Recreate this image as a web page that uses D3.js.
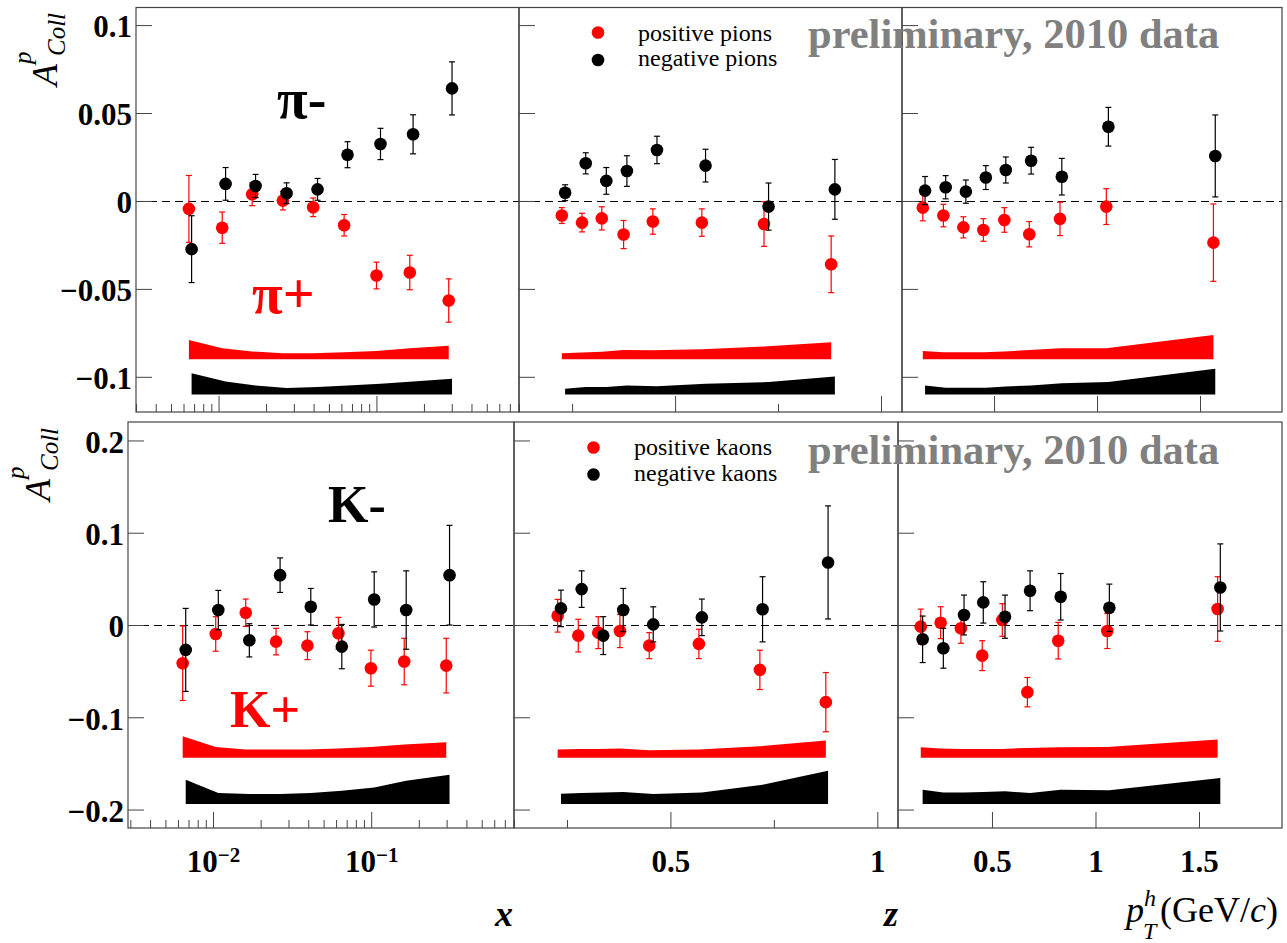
<!DOCTYPE html>
<html>
<head>
<meta charset="utf-8">
<script src="https://cdn.jsdelivr.net/npm/d3@7"></script>
<style>
body { margin: 0; background: #fff; }
text { font-family: "Liberation Serif", "Times New Roman", serif; }
</style>
</head>
<body>
<script>
/* Collins asymmetry on proton, 2010 data */

/* pions vs x */
var pixPosX = [0.00649, 0.01055, 0.01633, 0.02555, 0.03974, 0.06244, 0.1001, 0.1627, 0.2871];
var pixPosA = [-0.0045, -0.0152, 0.0038, 0.0002, -0.0036, -0.0138, -0.0424, -0.0407, -0.0566];
var pixPosE = [0.019, 0.0089, 0.0065, 0.0053, 0.0053, 0.0061, 0.0076, 0.0098, 0.0123];
var pixPosS = [0.011, 0.0063, 0.0044, 0.0034, 0.0034, 0.004, 0.0047, 0.0063, 0.0076];
var pixNegX = [0.00675, 0.01108, 0.01716, 0.02697, 0.04236, 0.06561, 0.1061, 0.1707, 0.3012];
var pixNegA = [-0.0274, 0.0097, 0.0085, 0.0044, 0.0066, 0.0263, 0.0324, 0.0379, 0.064];
var pixNegE = [0.019, 0.0093, 0.0066, 0.0059, 0.0062, 0.0074, 0.0089, 0.0111, 0.0151];
var pixNegS = [0.0121, 0.0074, 0.0051, 0.0036, 0.0042, 0.0051, 0.0061, 0.0074, 0.0089];

/* pions vs z */
var pizPosX = [0.225, 0.274, 0.322, 0.375, 0.446, 0.565, 0.716, 0.879];
var pizPosA = [-0.0083, -0.0123, -0.0099, -0.0191, -0.0117, -0.0123, -0.0131, -0.036];
var pizPosE = [0.0045, 0.0053, 0.0066, 0.008, 0.0072, 0.0078, 0.0127, 0.0161];
var pizPosS = [0.0034, 0.0038, 0.0042, 0.0053, 0.0051, 0.0057, 0.0072, 0.0097];
var pizNegX = [0.233, 0.283, 0.333, 0.383, 0.456, 0.574, 0.727, 0.888];
var pizNegA = [0.0047, 0.0214, 0.0114, 0.017, 0.029, 0.0201, -0.0032, 0.0066];
var pizNegE = [0.0045, 0.006, 0.0076, 0.0087, 0.0078, 0.0093, 0.0134, 0.017];
var pizNegS = [0.0032, 0.0042, 0.0042, 0.0051, 0.0047, 0.0061, 0.007, 0.0102];

/* pions vs pT */
var pipPosX = [0.154, 0.254, 0.351, 0.448, 0.55, 0.671, 0.82, 1.045, 1.565];
var pipPosA = [-0.0038, -0.0083, -0.015, -0.0165, -0.0108, -0.0189, -0.0102, -0.0032, -0.0237];
var pipPosE = [0.0075, 0.0064, 0.006, 0.0064, 0.007, 0.0072, 0.0095, 0.0102, 0.022];
var pipPosS = [0.0047, 0.004, 0.004, 0.004, 0.0044, 0.0053, 0.0062, 0.0062, 0.0138];
var pipNegX = [0.165, 0.265, 0.363, 0.46, 0.557, 0.68, 0.829, 1.055, 1.574];
var pipNegA = [0.0059, 0.0078, 0.0053, 0.0133, 0.0176, 0.0229, 0.0138, 0.0422, 0.0256];
var pipNegE = [0.008, 0.0066, 0.0066, 0.0068, 0.0074, 0.0076, 0.0104, 0.011, 0.0233];
var pipNegS = [0.0051, 0.0038, 0.0038, 0.0038, 0.0045, 0.0051, 0.0064, 0.007, 0.0146];

/* kaons vs x */
var kxPosX = [0.00643, 0.0104, 0.0161, 0.02504, 0.03952, 0.0621, 0.0996, 0.1618, 0.2983];
var kxPosA = [-0.0414, -0.0097, 0.0133, -0.018, -0.0224, -0.009, -0.0468, -0.0396, -0.044];
var kxPosE = [0.0404, 0.0187, 0.0148, 0.0144, 0.0151, 0.0173, 0.0195, 0.0252, 0.0296];
var kxPosS = [0.0234, 0.0119, 0.009, 0.009, 0.009, 0.0101, 0.0119, 0.0144, 0.0169];
var kxNegX = [0.00672, 0.0108, 0.01697, 0.02655, 0.04151, 0.06522, 0.1045, 0.1665, 0.313];
var kxNegA = [-0.027, 0.0162, -0.0166, 0.054, 0.0198, -0.0234, 0.0277, 0.0162, 0.054];
var kxNegE = [0.045, 0.0213, 0.018, 0.0187, 0.0198, 0.024, 0.0299, 0.0425, 0.054];
var kxNegS = [0.0263, 0.0119, 0.0108, 0.0108, 0.0119, 0.0144, 0.018, 0.0252, 0.0317];

/* kaons vs z */
var kzPosX = [0.2275, 0.2773, 0.3256, 0.378, 0.4488, 0.5688, 0.7162, 0.8756];
var kzPosA = [0.01, -0.0115, -0.0083, -0.0065, -0.0224, -0.0205, -0.0486, -0.0836];
var kzPosE = [0.0177, 0.0177, 0.0173, 0.018, 0.0141, 0.0159, 0.0213, 0.0321];
var kzPosS = [0.009, 0.0097, 0.0097, 0.0101, 0.0083, 0.009, 0.0126, 0.0187];
var kzNegX = [0.2355, 0.2855, 0.3377, 0.386, 0.4585, 0.576, 0.7227, 0.881];
var kzNegA = [0.018, 0.0389, -0.0115, 0.0162, 0.0007, 0.0083, 0.017, 0.0678];
var kzNegE = [0.0198, 0.0198, 0.0205, 0.0234, 0.019, 0.0198, 0.0353, 0.0613];
var kzNegS = [0.0112, 0.0119, 0.0126, 0.013, 0.0108, 0.0126, 0.0209, 0.036];

/* kaons vs pT */
var kpPosX = [0.156, 0.252, 0.35, 0.453, 0.55, 0.671, 0.82, 1.057, 1.59];
var kpPosA = [-0.0018, 0.0025, -0.0036, -0.0332, 0.0054, -0.0728, -0.017, -0.0065, 0.0173];
var kpPosE = [0.019, 0.0173, 0.0162, 0.0162, 0.0177, 0.0159, 0.0198, 0.019, 0.035];
var kpPosS = [0.0115, 0.0101, 0.0097, 0.0097, 0.0097, 0.0108, 0.0115, 0.0119, 0.0198];
var kpNegX = [0.165, 0.265, 0.365, 0.458, 0.563, 0.684, 0.832, 1.067, 1.603];
var kpNegA = [-0.0155, -0.0252, 0.0108, 0.0245, 0.009, 0.0371, 0.0306, 0.0187, 0.0407];
var kpNegE = [0.0252, 0.0216, 0.0216, 0.0224, 0.0234, 0.0216, 0.0252, 0.0256, 0.0472];
var kpNegS = [0.0155, 0.0126, 0.0126, 0.013, 0.0137, 0.0119, 0.0155, 0.0148, 0.0281];

/* baselines of the systematic bands (positive, negative) */
var pionBandBase = [-0.09, -0.11];
var kaonBandBase = [-0.144, -0.194];

var pionYTicks = [-0.1, -0.05, 0, 0.05, 0.1];
var kaonYTicks = [-0.2, -0.1, 0, 0.1, 0.2];

/* Layout */
var width = 1287,
    height = 943;
var serif = '"Liberation Serif", "Times New Roman", serif';

var svg = d3.select("body").append("svg")
    .attr("width", width)
    .attr("height", height);
svg.append("rect").attr("width", width).attr("height", height).attr("fill", "#fff");

var topRow = {y0: 7.5, y1: 412, domain: [-0.12, 0.11], ticks: pionYTicks, base: pionBandBase};
var botRow = {y0: 422, y1: 828, domain: [-0.22, 0.22], ticks: kaonYTicks, base: kaonBandBase};

var panels = [
    {row: topRow, x0: 136, x1: 519, log: true, domain: [0.003, 0.8], major: [0.01, 0.1], minor: null,
     first: true, xlabels: false,
     pos: [pixPosX, pixPosA, pixPosE, pixPosS], neg: [pixNegX, pixNegA, pixNegE, pixNegS]},
    {row: topRow, x0: 519, x1: 902, log: false, domain: [0.121, 1.051], major: [0.5, 1], minor: [0.25, 0.75],
     first: false, xlabels: false,
     pos: [pizPosX, pizPosA, pizPosE, pizPosS], neg: [pizNegX, pizNegA, pizNegE, pizNegS]},
    {row: topRow, x0: 902, x1: 1282, log: false, domain: [0.053, 1.898], major: [0.5, 1, 1.5], minor: [],
     first: false, xlabels: false,
     pos: [pipPosX, pipPosA, pipPosE, pipPosS], neg: [pipNegX, pipNegA, pipNegE, pipNegS]},
    {row: botRow, x0: 128, x1: 514, log: true, domain: [0.0029, 0.8], major: [0.01, 0.1], minor: null,
     first: true, xlabels: true,
     pos: [kxPosX, kxPosA, kxPosE, kxPosS], neg: [kxNegX, kxNegA, kxNegE, kxNegS]},
    {row: botRow, x0: 514, x1: 898, log: false, domain: [0.122, 1.05], major: [0.5, 1], minor: [0.25, 0.75],
     first: false, xlabels: true,
     pos: [kzPosX, kzPosA, kzPosE, kzPosS], neg: [kzNegX, kzNegA, kzNegE, kzNegS]},
    {row: botRow, x0: 898, x1: 1282, log: false, domain: [0.046, 1.901], major: [0.5, 1, 1.5], minor: [],
     first: false, xlabels: true,
     pos: [kpPosX, kpPosA, kpPosE, kpPosS], neg: [kpNegX, kpNegA, kpNegE, kpNegS]}
];

function yFormat(d) {
    if (d === 0) return "0";
    return (d < 0 ? "\u2212" : "") + Math.abs(d);
}

function drawPanel(p) {
    var row = p.row;
    var y = d3.scaleLinear().domain(row.domain).range([row.y1, row.y0]);
    var x = (p.log ? d3.scaleLog() : d3.scaleLinear()).domain(p.domain).range([p.x0, p.x1]);
    var g = svg.append("g");

    // dashed zero line
    g.append("line")
        .attr("x1", p.x0).attr("x2", p.x1)
        .attr("y1", Math.round(y(0)) + 0.5).attr("y2", Math.round(y(0)) + 0.5)
        .attr("stroke", "#000").attr("stroke-width", 1)
        .attr("stroke-dasharray", "8,5");

    // systematic bands
    var series = [
        {d: p.pos, base: row.base[0], color: "#ff0000"},
        {d: p.neg, base: row.base[1], color: "#000000"}
    ];
    series.forEach(function(s) {
        var idx = d3.range(s.d[0].length);
        var area = d3.area()
            .x(function(i) { return x(s.d[0][i]); })
            .y0(y(s.base))
            .y1(function(i) { return y(s.base + s.d[3][i]); });
        g.append("path").datum(idx).attr("d", area).attr("fill", s.color);
    });

    // points with statistical errors
    series.forEach(function(s) {
        var idx = d3.range(s.d[0].length);
        var pts = g.append("g").selectAll("g").data(idx).enter().append("g");
        pts.append("line")
            .attr("x1", function(i) { return x(s.d[0][i]); })
            .attr("x2", function(i) { return x(s.d[0][i]); })
            .attr("y1", function(i) { return y(s.d[1][i] + s.d[2][i]); })
            .attr("y2", function(i) { return y(s.d[1][i] - s.d[2][i]); })
            .attr("stroke", s.color).attr("stroke-width", 1.2);
        [1, -1].forEach(function(sign) {
            pts.append("line")
                .attr("x1", function(i) { return x(s.d[0][i]) - 3; })
                .attr("x2", function(i) { return x(s.d[0][i]) + 3; })
                .attr("y1", function(i) { return y(s.d[1][i] + sign * s.d[2][i]); })
                .attr("y2", function(i) { return y(s.d[1][i] + sign * s.d[2][i]); })
                .attr("stroke", s.color).attr("stroke-width", 1.2);
        });
        pts.append("circle")
            .attr("cx", function(i) { return x(s.d[0][i]); })
            .attr("cy", function(i) { return y(s.d[1][i]); })
            .attr("r", 6.3)
            .attr("fill", s.color);
    });

    // y ticks (inside, pointing right)
    g.append("g")
        .attr("transform", "translate(" + p.x0 + ",0)")
        .call(d3.axisRight(y).tickValues(row.ticks).tickSize(16).tickFormat(""))
        .call(function(a) { a.select(".domain").remove(); a.selectAll("line").attr("stroke", "#444"); });

    if (p.first) {
        g.append("g")
            .attr("transform", "translate(" + p.x0 + ",0)")
            .call(d3.axisLeft(y).tickValues(row.ticks).tickSize(0).tickPadding(4).tickFormat(yFormat))
            .call(function(a) {
                a.select(".domain").remove();
                a.attr("font-family", serif).attr("font-size", 31).attr("font-weight", "bold");
                a.selectAll("text").attr("fill", "#000").attr("dy", "0.38em");
            });
    }

    // x ticks (inside, pointing up)
    var minor = p.minor;
    if (p.log) {
        minor = x.ticks().filter(function(t) {
            var l = Math.log10(t);
            return Math.abs(l - Math.round(l)) > 1e-6;
        });
    }
    g.append("g")
        .attr("transform", "translate(0," + row.y1 + ")")
        .call(d3.axisTop(x).tickValues(p.major).tickSize(16).tickFormat(""))
        .call(function(a) { a.select(".domain").remove(); a.selectAll("line").attr("stroke", "#444"); });
    g.append("g")
        .attr("transform", "translate(0," + row.y1 + ")")
        .call(d3.axisTop(x).tickValues(minor).tickSize(8).tickFormat(""))
        .call(function(a) { a.select(".domain").remove(); a.selectAll("line").attr("stroke", "#444"); });

    if (p.xlabels) {
        g.append("g")
            .attr("transform", "translate(0," + row.y1 + ")")
            .call(d3.axisBottom(x).tickValues(p.major).tickSize(0).tickPadding(22)
                .tickFormat(function(d) { return p.log ? "10" : String(d); }))
            .call(function(a) {
                a.select(".domain").remove();
                a.attr("font-family", serif).attr("font-size", 31).attr("font-weight", "bold");
                a.selectAll("text").attr("fill", "#000");
                if (p.log) {
                    a.selectAll(".tick text").each(function(d) {
                        d3.select(this).append("tspan")
                            .attr("dy", "-0.5em")
                            .attr("font-size", 21)
                            .text("\u2212" + Math.round(-Math.log10(d)));
                    });
                }
            });
    }

    // frame
    g.append("rect")
        .attr("x", p.x0).attr("y", row.y0)
        .attr("width", p.x1 - p.x0).attr("height", row.y1 - row.y0)
        .attr("fill", "none").attr("stroke", "#444").attr("stroke-width", 1.2);
}

panels.forEach(drawPanel);

/* y axis titles A^p_Coll */
function yTitle(xb, yb) {
    var t = svg.append("g").attr("transform", "translate(" + xb + "," + yb + ") rotate(-90)");
    t.append("text").attr("x", 0).attr("y", 0)
        .attr("font-size", 36).attr("font-style", "italic").text("A");
    t.append("text").attr("x", 22).attr("y", -26)
        .attr("font-size", 25).attr("font-style", "italic").text("p");
    t.append("text").attr("x", 30).attr("y", 8)
        .attr("font-size", 25).attr("font-style", "italic").text("Coll");
}
yTitle(57, 86);
yTitle(50, 501);

/* x axis titles */
svg.append("text").attr("x", 504).attr("y", 926).attr("text-anchor", "middle")
    .attr("font-size", 36).attr("font-style", "italic").attr("font-weight", "bold").text("x");
svg.append("text").attr("x", 891).attr("y", 926).attr("text-anchor", "middle")
    .attr("font-size", 36).attr("font-style", "italic").attr("font-weight", "bold").text("z");
svg.append("text").attr("x", 1126).attr("y", 922)
    .attr("font-size", 36).attr("font-style", "italic").text("p");
svg.append("text").attr("x", 1144).attr("y", 906)
    .attr("font-size", 24).attr("font-style", "italic").text("h");
svg.append("text").attr("x", 1143).attr("y", 939)
    .attr("font-size", 24).attr("font-style", "italic").text("T");
var unit = svg.append("text").attr("x", 1160).attr("y", 922).attr("font-size", 36);
unit.append("tspan").text("(GeV/");
unit.append("tspan").attr("font-style", "italic").text("c");
unit.append("tspan").text(")");

/* preliminary labels */
[48, 464].forEach(function(yb) {
    svg.append("text").attr("x", 808).attr("y", yb)
        .attr("font-size", 42.5).attr("font-weight", "bold").attr("fill", "#808080")
        .text("preliminary, 2010 data");
});

/* legends */
var legends = [
    {cx: 598, cy: 32.5, tx: 638, ty: 40.5, color: "#ff0000", label: "positive pions"},
    {cx: 598, cy: 60, tx: 638, ty: 65.5, color: "#000", label: "negative pions"},
    {cx: 593.5, cy: 447.5, tx: 634, ty: 455, color: "#ff0000", label: "positive kaons"},
    {cx: 593.5, cy: 474.5, tx: 634, ty: 480.5, color: "#000", label: "negative kaons"}
];
legends.forEach(function(l) {
    svg.append("circle").attr("cx", l.cx).attr("cy", l.cy).attr("r", 6.3).attr("fill", l.color);
    svg.append("text").attr("x", l.tx).attr("y", l.ty).attr("font-size", 24).text(l.label);
});

/* hadron labels */
var hadronLabels = [
    {x: 277, y: 118, size: 56, color: "#000", text: "\u03c0-"},
    {x: 252, y: 313, size: 56, color: "#ff0000", text: "\u03c0+"},
    {x: 328, y: 522, size: 52, color: "#000", text: "K-"},
    {x: 230, y: 727, size: 52, color: "#ff0000", text: "K+"}
];
hadronLabels.forEach(function(h) {
    svg.append("text").attr("x", h.x).attr("y", h.y)
        .attr("font-size", h.size).attr("font-weight", "bold").attr("fill", h.color)
        .text(h.text);
});
</script>
</body>
</html>
